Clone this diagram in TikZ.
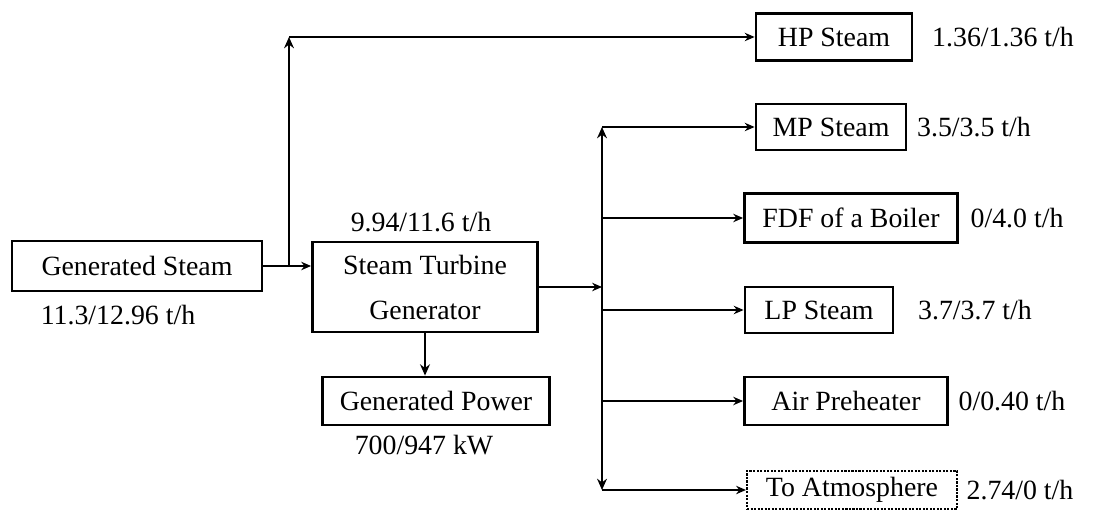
\documentclass[tikz,border=0pt]{standalone}
\usepackage{fontspec}
\setmainfont{Liberation Serif}
\usetikzlibrary{arrows.meta}

\begin{document}
\begin{tikzpicture}[
    x=0.025cm, y=-0.025cm,
    font=\fontsize{19.8}{23}\selectfont,
    flow/.style={-{Stealth[length=7pt,width=6pt]}, line width=1pt},
    main flow/.style={-{Stealth[length=8pt,width=7pt]}, line width=2pt},
    bus line/.style={{Stealth[length=8pt,width=7pt]}-{Stealth[length=8pt,width=7pt]}, line width=2pt},
    % Box styles
    unit/.style={draw, line width=2pt, inner sep=0pt, align=center},
    vent/.style={draw, densely dotted, line width=1.5pt, inner sep=0pt},
    rate/.style={inner sep=0pt}
]
\useasboundingbox (0,0) rectangle (1109,511);

% --- Steam source and turbine ---
\node[unit, minimum width=6.25cm, minimum height=1.25cm] (gensteam) at (137,266) {Generated Steam};
\node[rate] (gensteamrate) at (118,315) {11.3/12.96 t/h};
\node[unit, minimum width=5.625cm, minimum height=2.25cm] (turbine) at (425,287) {Steam Turbine\\[9pt]Generator};
\node[rate] (turbinerate) at (421,222) {9.94/11.6 t/h};
\node[unit, minimum width=5.675cm, minimum height=1.2cm] (power) at (436,401) {Generated Power};
\node[rate] (powerrate) at (424,445) {700/947 kW};

\coordinate (split) at (289,266);
\coordinate (bus) at (602,287);

% --- Steam users ---
\node[unit, minimum width=3.9cm, minimum height=1.175cm] (hp) at (834,37) {HP Steam};
\node[rate] (hprate) at (1003,37) {1.36/1.36 t/h};
\node[unit, minimum width=3.75cm, minimum height=1.15cm] (mp) at (831,127) {MP Steam};
\node[rate] (mprate) at (974,127) {3.5/3.5 t/h};
\node[unit, minimum width=5.325cm, minimum height=1.225cm] (fdf) at (851,218) {FDF of a Boiler};
\node[rate] (fdfrate) at (1017,218) {0/4.0 t/h};
\node[unit, minimum width=3.7cm, minimum height=1.15cm] (lp) at (819,310) {LP Steam};
\node[rate] (lprate) at (975,310) {3.7/3.7 t/h};
\node[unit, minimum width=5.075cm, minimum height=1.2cm] (air) at (846,401) {Air Preheater};
\node[rate] (airrate) at (1012,401) {0/0.40 t/h};
\node[vent, minimum width=5.25cm, minimum height=0.95cm] (atm) at (852,490) {To Atmosphere};
\node[rate] (atmrate) at (1020,490) {2.74/0 t/h};

% --- Connectors ---
\draw[flow] (gensteam.east) -- (gensteam.east -| turbine.west);
\draw[main flow] (split) -- (split |- hp.west);
\draw[flow] (split |- hp.west) -- (hp.west);
\draw[main flow] (turbine.south) -- (turbine.south |- power.north);
\draw[flow] (turbine.east |- bus) -- (bus);
\draw[bus line] (bus |- mp.west) -- (bus |- atm.west);
\draw[flow] (bus |- mp.west) -- (mp.west);
\draw[flow] (bus |- fdf.west) -- (fdf.west);
\draw[flow] (bus |- lp.west) -- (lp.west);
\draw[flow] (bus |- air.west) -- (air.west);
\draw[flow] (bus |- atm.west) -- (atm.west);

\end{tikzpicture}
\end{document}
